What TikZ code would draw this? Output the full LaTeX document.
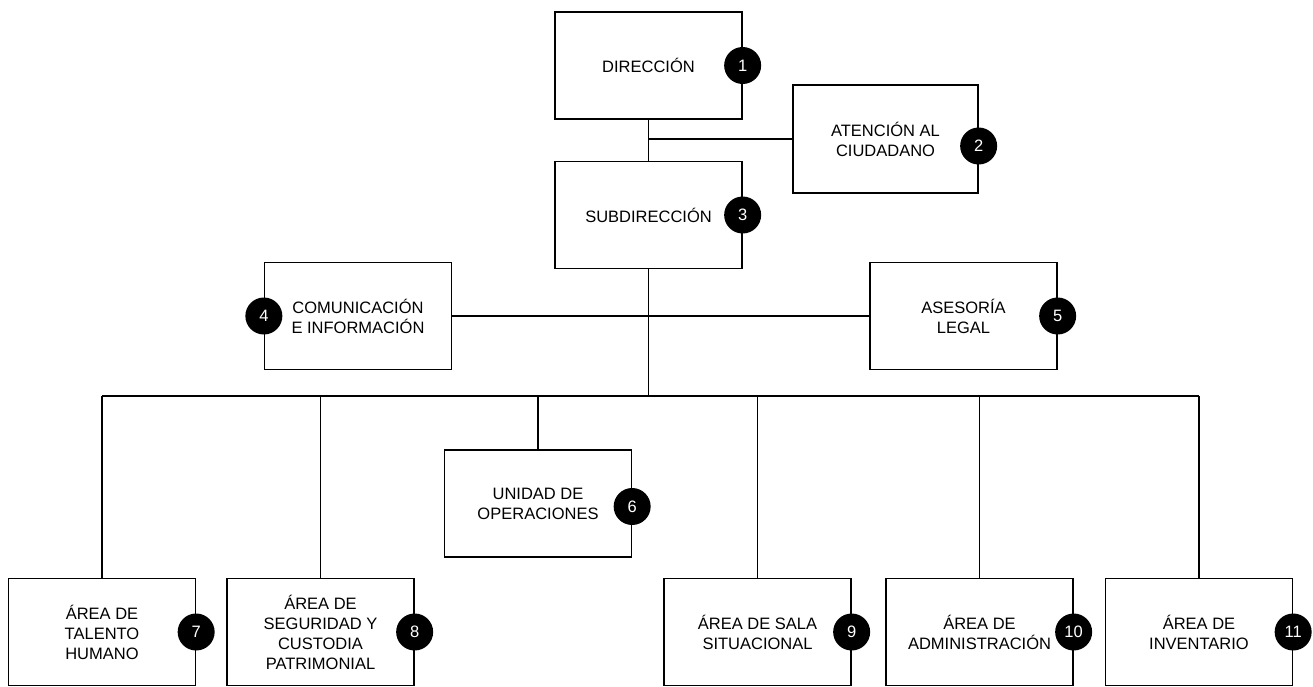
\documentclass[tikz,border=0pt]{standalone}
\usepackage{fontspec}
\setmainfont{Liberation Sans}
\begin{document}
\begin{tikzpicture}[x=1pt,y=-1pt,
  orgbox/.style={draw=black, line width=1.3pt, minimum width=187pt, minimum height=107pt,
    inner sep=0pt, align=center, font=\fontsize{16.5}{20}\selectfont},
  badge/.style={circle, fill=black, text=white, minimum size=37pt, inner sep=0pt,
    font=\fontsize{16.5}{20}\selectfont},
  link/.style={draw=black, line width=1.3pt}]
\useasboundingbox (0,0) rectangle (1313,687);
\fill[white] (0,0) rectangle (1313,687);

\node[orgbox] (d) at (648.5,65.5) {DIRECCIÓN};
\node[orgbox, minimum width=185pt, minimum height=108pt] (a) at (885.5,139) {ATENCIÓN AL\\CIUDADANO};
\node[orgbox] (s) at (648.5,215) {SUBDIRECCIÓN};
\node[orgbox] (c) at (358,316) {COMUNICACIÓN\\E INFORMACIÓN};
\node[orgbox] (l) at (963.5,316) {ASESORÍA\\LEGAL};
\node[orgbox] (u) at (538,503.5) {UNIDAD DE\\OPERACIONES};
\node[orgbox] (t) at (102,632) {ÁREA DE\\TALENTO\\HUMANO};
\node[orgbox] (g) at (320.5,632) {ÁREA DE\\SEGURIDAD Y\\CUSTODIA\\PATRIMONIAL};
\node[orgbox] (sa) at (757.5,632) {ÁREA DE SALA\\SITUACIONAL};
\node[orgbox] (ad) at (979.5,632) {ÁREA DE\\ADMINISTRACIÓN};
\node[orgbox] (in) at (1199,632) {ÁREA DE\\INVENTARIO};

\coordinate (bus) at (648.5,396);

\draw[link] (d.south) -- (s.north);
\draw[link] (d.south |- a.west) -- (a.west);
\draw[link] (s.south) -- ([yshift=1pt]bus);
\draw[link] (c.east) -- (l.west);
\draw[link] (t.north |- bus) -- (in.north |- bus);
\draw[link] (t.north |- bus) -- (t.north);
\draw[link] (g.north |- bus) -- (g.north);
\draw[link] (u.north |- bus) -- (u.north);
\draw[link] (sa.north |- bus) -- (sa.north);
\draw[link] (ad.north |- bus) -- (ad.north);
\draw[link] (in.north |- bus) -- (in.north);

\node[badge] (b1) at (d.east) {1};
\node[badge] (b2) at ([yshift=-7pt]a.east) {2};
\node[badge] (b3) at (s.east) {3};
\node[badge] (b4) at (c.west) {4};
\node[badge] (b5) at (l.east) {5};
\node[badge] (b6) at ([yshift=-3pt]u.east) {6};
\node[badge] (b7) at (t.east) {7};
\node[badge] (b8) at (g.east) {8};
\node[badge] (b9) at (sa.east) {9};
\node[badge] (b10) at (ad.east) {10};
\node[badge] (b11) at (in.east) {11};
\end{tikzpicture}
\end{document}
